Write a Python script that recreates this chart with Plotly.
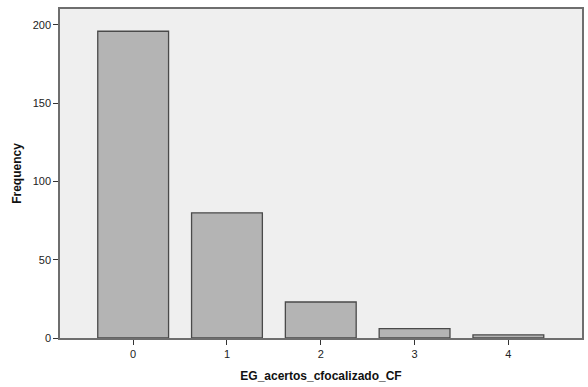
import plotly.graph_objects as go

# Frequency of correct answers per category
categories = [0, 1, 2, 3, 4]
frequencies = [196, 80, 23, 6, 2]
y_ticks = [0, 50, 100, 150, 200]

fig = go.Figure(
    go.Bar(
        x=categories,
        y=frequencies,
        width=0.755,
        marker=dict(color="#B4B4B4", line=dict(color="#4A4A4A", width=1.3)),
    )
)

axis_common = dict(
    showgrid=False,
    zeroline=False,
    showline=True,
    linecolor="#6E6E6E",
    linewidth=1.5,
    mirror=True,
    ticks="outside",
    ticklen=5,
    tickwidth=1.3,
    tickcolor="#333333",
    tickfont=dict(family="Arial, Liberation Sans", size=11, color="#222222"),
)

fig.update_xaxes(
    **axis_common,
    range=[-0.78, 4.785],
    tickvals=categories,
    title=dict(
        text="<b>EG_acertos_cfocalizado_CF</b>",
        font=dict(family="Arial, Liberation Sans", size=12, color="#111111"),
        standoff=13,
    ),
)
fig.update_yaxes(
    **axis_common,
    range=[0, 210.2],
    tickvals=y_ticks,
    title=dict(
        text="<b>Frequency</b>",
        font=dict(family="Arial, Liberation Sans", size=12, color="#111111"),
        standoff=8,
    ),
)

fig.update_layout(
    width=588,
    height=387,
    margin=dict(l=60, r=4, t=9, b=49),
    plot_bgcolor="#EFEFEF",
    paper_bgcolor="#FFFFFF",
    showlegend=False,
)

fig.write_html("out.html")
